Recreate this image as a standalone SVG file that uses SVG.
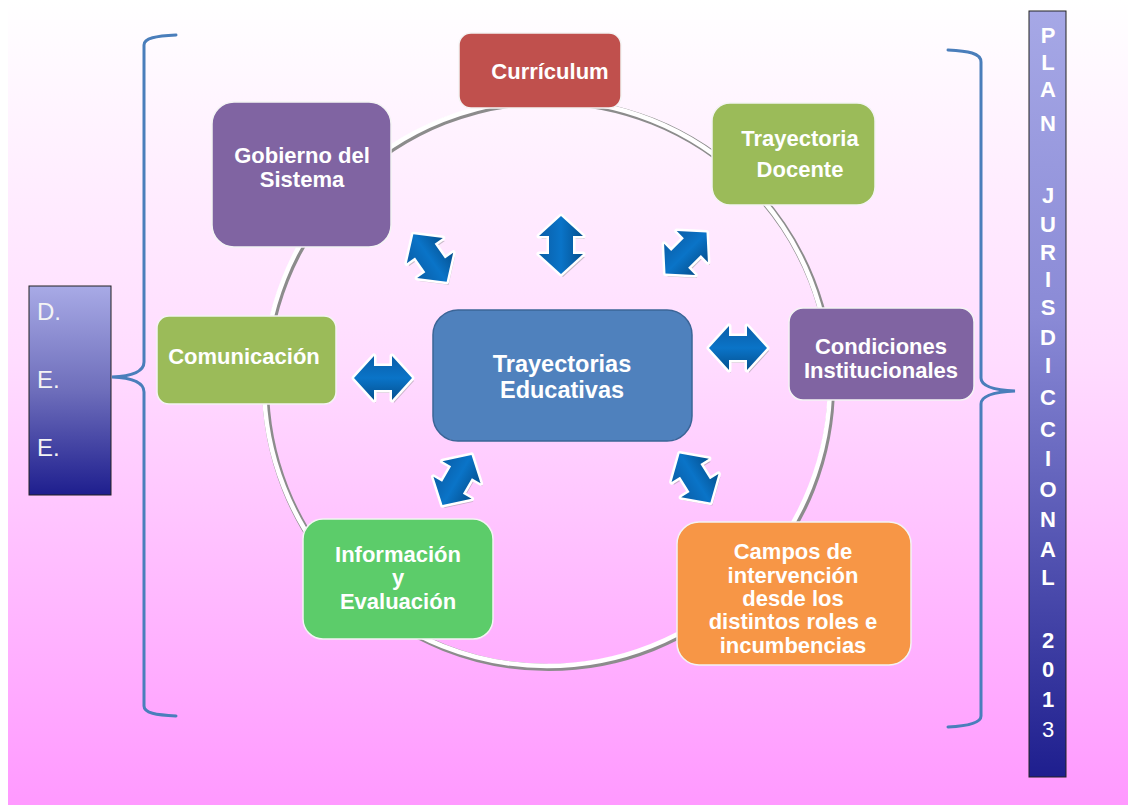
<svg xmlns="http://www.w3.org/2000/svg" xmlns:xlink="http://www.w3.org/1999/xlink" width="1130" height="805" viewBox="0 0 1130 805">
<defs>
<linearGradient id="bg" x1="0" y1="0" x2="0" y2="1">
<stop offset="0" stop-color="#ffffff"/>
<stop offset="0.45" stop-color="#ffdcff"/>
<stop offset="1" stop-color="#ff99ff"/>
</linearGradient>
<linearGradient id="side" x1="0" y1="0" x2="0" y2="1">
<stop offset="0" stop-color="#a8aae6"/>
<stop offset="0.5" stop-color="#6e6ebb"/>
<stop offset="1" stop-color="#1e1e8e"/>
</linearGradient>
<linearGradient id="side2" x1="0" y1="0" x2="0" y2="1">
<stop offset="0" stop-color="#a6a8e6"/>
<stop offset="0.4" stop-color="#8a8ad6"/>
<stop offset="1" stop-color="#1e1e8e"/>
</linearGradient>
<linearGradient id="arw" x1="0" y1="0" x2="1" y2="0">
<stop offset="0" stop-color="#0a5ea8"/>
<stop offset="0.5" stop-color="#0a74c8"/>
<stop offset="1" stop-color="#05508f"/>
</linearGradient>
<path id="dbl" d="M0,-29 L22,-9 L12,-9 L12,9 L22,9 L0,29 L-22,9 L-12,9 L-12,-9 L-22,-9 Z"/>
<style>
.t{font-family:"Liberation Sans",Arial,sans-serif;font-weight:bold;fill:#ffffff;font-size:22px;text-anchor:middle}
.c{font-size:23.5px}
.box{stroke:#f4f4f4;stroke-width:1.5}
.v{font-family:"Liberation Sans",Arial,sans-serif;font-weight:bold;fill:#ffffff;font-size:22px;text-anchor:middle}
.n{font-weight:normal}
.d{font-family:"Liberation Sans",Arial,sans-serif;fill:#f4f4f4;font-size:24px}
.br{fill:none;stroke:#4a7ebb;stroke-width:3;stroke-linecap:round}
.ar{fill:url(#arw);stroke:#ffffff;stroke-width:5;stroke-linejoin:round;paint-order:stroke}
.sh{fill:#8a8a8a;opacity:0.45}
</style>
</defs>
<rect x="0" y="0" width="1130" height="805" fill="#ffffff"/>
<rect x="8" y="0" width="1120" height="805" fill="url(#bg)"/>

<g id="ring">
<circle cx="548.5" cy="384.5" r="283" fill="none" stroke="#8c8c8c" stroke-width="7"/>
<circle cx="547" cy="383" r="283" fill="none" stroke="#ffffff" stroke-width="4.5"/>
</g>

<g id="brackets">
<path class="br" d="M176,35 C156,36 144,38 144,45 L144,362 C144,371 135,376 112,377 C135,378 144,383 144,392 L144,706 C144,713 156,715 176,716"/>
<path class="br" d="M948,50 C968,51 981,53 981,62 L981,378 C981,386 992,390 1015,391 C992,392 981,396 981,404 L981,716 C981,723 968,726 948,727"/>
</g>

<g id="dee">
<rect x="29" y="286" width="82" height="209" fill="url(#side)" stroke="#222222" stroke-width="1"/>
<text class="d" x="37" y="320">D.</text>
<text class="d" x="37" y="388">E.</text>
<text class="d" x="37" y="456">E.</text>
</g>

<g id="plan">
<rect x="1029" y="11" width="37" height="766" fill="url(#side2)" stroke="#222222" stroke-width="1"/>
<text class="v" x="1048" y="43">P</text>
<text class="v" x="1048" y="70">L</text>
<text class="v" x="1048" y="97">A</text>
<text class="v" x="1048" y="131">N</text>
<text class="v" x="1048" y="203">J</text>
<text class="v" x="1048" y="232">U</text>
<text class="v" x="1048" y="260">R</text>
<text class="v" x="1048" y="287">I</text>
<text class="v" x="1048" y="315">S</text>
<text class="v" x="1048" y="345">D</text>
<text class="v" x="1048" y="373">I</text>
<text class="v" x="1048" y="405">C</text>
<text class="v" x="1048" y="437">C</text>
<text class="v" x="1048" y="466">I</text>
<text class="v" x="1048" y="497">O</text>
<text class="v" x="1048" y="527">N</text>
<text class="v" x="1048" y="557">A</text>
<text class="v" x="1048" y="585">L</text>
<text class="v" x="1048" y="648">2</text>
<text class="v" x="1048" y="677">0</text>
<text class="v" x="1048" y="707">1</text>
<text class="v n" x="1048" y="737">3</text>
</g>

<g id="curriculum">
<rect class="box" x="459" y="33" width="162" height="75" rx="12" fill="#c0504d"/>
<text class="t" x="550" y="79">Currículum</text>
</g>
<g id="gobierno">
<rect class="box" x="212" y="102" width="179" height="145" rx="22" fill="#8064a2"/>
<text class="t" x="302" y="163">Gobierno del</text>
<text class="t" x="302" y="187">Sistema</text>
</g>
<g id="docente">
<rect class="box" x="712" y="103" width="163" height="102" rx="18" fill="#9bbb59"/>
<text class="t" x="800" y="146">Trayectoria</text>
<text class="t" x="800" y="177">Docente</text>
</g>
<g id="comunicacion">
<rect class="box" x="157" y="316" width="179" height="88" rx="12" fill="#9bbb59"/>
<text class="t" x="244" y="364">Comunicación</text>
</g>
<g id="centro">
<rect x="433" y="310" width="259" height="131" rx="25" fill="#4f81bd" stroke="#3b6597" stroke-width="1.5"/>
<text class="t c" x="562" y="372">Trayectorias</text>
<text class="t c" x="562" y="398">Educativas</text>
</g>
<g id="condiciones">
<rect class="box" x="789" y="308" width="185" height="92" rx="14" fill="#8064a2"/>
<text class="t" x="881" y="354">Condiciones</text>
<text class="t" x="881" y="378">Institucionales</text>
</g>
<g id="informacion">
<rect class="box" x="303" y="519" width="190" height="120" rx="20" fill="#5ccc6a"/>
<text class="t" x="398" y="562">Información</text>
<text class="t" x="398" y="585">y</text>
<text class="t" x="398" y="609">Evaluación</text>
</g>
<g id="campos">
<rect class="box" x="677" y="522" width="234" height="143" rx="22" fill="#f79646"/>
<text class="t" x="793" y="559">Campos de</text>
<text class="t" x="793" y="583">intervención</text>
<text class="t" x="793" y="606">desde los</text>
<text class="t" x="793" y="629">distintos roles e</text>
<text class="t" x="793" y="653">incumbencias</text>
</g>

<g id="connectors">
<use href="#dbl" xlink:href="#dbl" class="sh" transform="translate(563,248)"/>
<use href="#dbl" xlink:href="#dbl" class="ar" transform="translate(561,245)"/>
<use href="#dbl" xlink:href="#dbl" class="sh" transform="translate(432,261) rotate(-35)"/>
<use href="#dbl" xlink:href="#dbl" class="ar" transform="translate(430,258) rotate(-35)"/>
<use href="#dbl" xlink:href="#dbl" class="sh" transform="translate(688,256) rotate(45)"/>
<use href="#dbl" xlink:href="#dbl" class="ar" transform="translate(686,253) rotate(45)"/>
<use href="#dbl" xlink:href="#dbl" class="sh" transform="translate(385,381) rotate(90)"/>
<use href="#dbl" xlink:href="#dbl" class="ar" transform="translate(383,378) rotate(90)"/>
<use href="#dbl" xlink:href="#dbl" class="sh" transform="translate(740,351) rotate(90)"/>
<use href="#dbl" xlink:href="#dbl" class="ar" transform="translate(738,348) rotate(90)"/>
<use href="#dbl" xlink:href="#dbl" class="sh" transform="translate(459,483) rotate(30)"/>
<use href="#dbl" xlink:href="#dbl" class="ar" transform="translate(457,480) rotate(30)"/>
<use href="#dbl" xlink:href="#dbl" class="sh" transform="translate(697,481) rotate(-32)"/>
<use href="#dbl" xlink:href="#dbl" class="ar" transform="translate(695,478) rotate(-32)"/>
</g>
</svg>
